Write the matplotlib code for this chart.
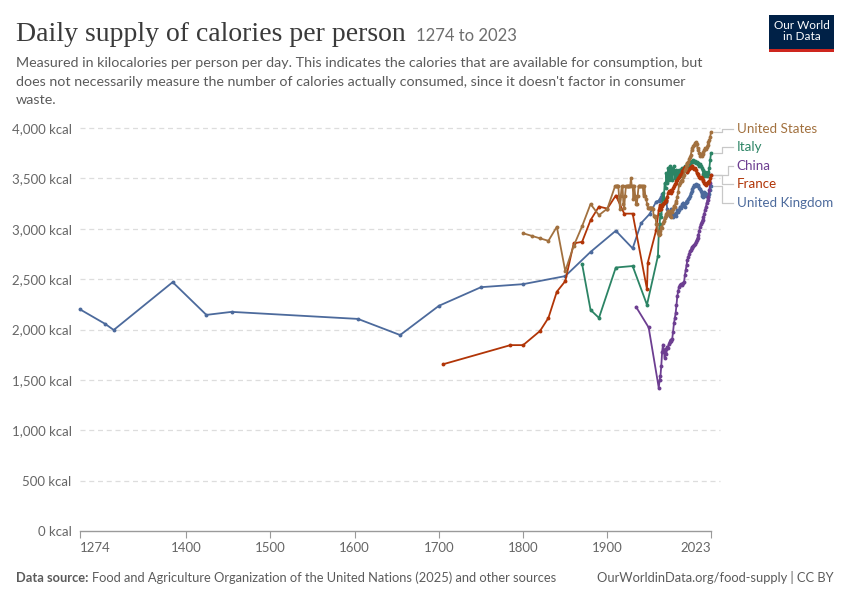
import matplotlib
matplotlib.use("Agg")
import matplotlib.pyplot as plt
from matplotlib.patches import Rectangle
import matplotlib.transforms as mtransforms

# ---------------- data ----------------
fao_years = list(range(1961, 2024))

uk_hist_years = [1274, 1304, 1314, 1384, 1424, 1454, 1604, 1654, 1700, 1750, 1800, 1850, 1880, 1910, 1930, 1940, 1950, 1958]
uk_hist_vals = [2200, 2055, 1995, 2470, 2145, 2175, 2105, 1945, 2235, 2420, 2450, 2530, 2770, 2980, 2805, 3055, 3145, 3270]
uk_fao_vals = [3280, 3290, 3300, 3320, 3340, 3320, 3300, 3280, 3290, 3270, 3200, 3150, 3160, 3130, 3150, 3200, 3180,
               3120, 3140, 3150, 3130, 3160, 3190, 3170, 3190, 3220, 3210, 3230, 3250, 3260, 3240, 3220, 3260, 3280,
               3270, 3300, 3310, 3330, 3350, 3370, 3390, 3410, 3430, 3420, 3440, 3430, 3420, 3430, 3400, 3390, 3370,
               3330, 3320, 3340, 3360, 3350, 3330, 3340, 3330, 3320, 3340, 3380, 3420]

fr_hist_years = [1705, 1785, 1800, 1820, 1830, 1840, 1850, 1860, 1870, 1880, 1890, 1900, 1910, 1920, 1930, 1947, 1948, 1958]
fr_hist_vals = [1655, 1845, 1845, 1985, 2115, 2375, 2480, 2855, 2870, 3085, 3220, 3200, 3330, 3150, 3150, 2400, 2665, 2990]
fr_fao_vals = [3190, 3220, 3240, 3200, 3230, 3250, 3260, 3270, 3280, 3290, 3320, 3350, 3370, 3360, 3350, 3380, 3370,
               3400, 3420, 3440, 3450, 3470, 3480, 3500, 3510, 3530, 3540, 3550, 3570, 3580, 3600, 3610, 3590, 3570,
               3560, 3580, 3590, 3600, 3610, 3620, 3620, 3600, 3590, 3600, 3580, 3550, 3540, 3530, 3510, 3500, 3510,
               3500, 3480, 3470, 3450, 3440, 3430, 3450, 3460, 3450, 3470, 3500, 3530]

it_hist_years = [1870, 1880, 1890, 1910, 1930, 1947, 1960]
it_hist_vals = [2650, 2195, 2115, 2615, 2630, 2245, 2730]
it_fao_vals = [2950, 3050, 3150, 3120, 3250, 3350, 3300, 3450, 3400, 3550, 3450, 3600, 3480, 3620, 3500, 3600, 3480,
               3580, 3620, 3500, 3580, 3500, 3550, 3520, 3580, 3520, 3560, 3600, 3540, 3580, 3600, 3620, 3580, 3600,
               3560, 3620, 3640, 3650, 3660, 3670, 3660, 3680, 3660, 3670, 3650, 3660, 3640, 3650, 3620, 3640, 3620,
               3600, 3580, 3540, 3520, 3560, 3540, 3520, 3540, 3560, 3600, 3680, 3750]

cn_hist_years = [1934, 1949]
cn_hist_vals = [2225, 2020]
cn_fao_vals = [1420, 1500, 1540, 1640, 1780, 1850, 1790, 1720, 1810, 1760, 1830, 1820, 1860, 1880, 1900, 1890, 1910,
               1980, 2060, 2110, 2160, 2240, 2330, 2380, 2420, 2440, 2450, 2440, 2450, 2460, 2470, 2540, 2590, 2640,
               2690, 2720, 2750, 2780, 2790, 2810, 2820, 2830, 2840, 2850, 2870, 2890, 2910, 2940, 2980, 3020, 3050,
               3070, 3090, 3120, 3150, 3190, 3220, 3260, 3290, 3320, 3380, 3450, 3530]

us_hist_years = [1800, 1810, 1820, 1830, 1840, 1850, 1860, 1870, 1880, 1890, 1900,
                 1909, 1910, 1911, 1912, 1913, 1914, 1915, 1916, 1917, 1918, 1919, 1920, 1921, 1922, 1923, 1924,
                 1925, 1926, 1927, 1928, 1929, 1930, 1931, 1932, 1933, 1934, 1935, 1936, 1937, 1938, 1939, 1940,
                 1941, 1942, 1943, 1944, 1945, 1946, 1947, 1948, 1949, 1950, 1951, 1952, 1953, 1954, 1955, 1956,
                 1957, 1958, 1959, 1960]
us_hist_vals = [2955, 2930, 2905, 2880, 3020, 2580, 2830, 3025, 3245, 3135, 3200,
                3420, 3420, 3420, 3420, 3420, 3300, 3200, 3330, 3420, 3420, 3250, 3210, 3330, 3420, 3420, 3420,
                3420, 3420, 3420, 3500, 3420, 3420, 3300, 3420, 3330, 3250, 3250, 3330, 3420, 3420, 3420, 3420,
                3420, 3420, 3330, 3420, 3330, 3300, 3250, 3210, 3210, 3210, 3210, 3210, 3210, 3200, 3130, 3130,
                3120, 3050, 3050, 2960]
us_fao_vals = [2940, 2950, 2980, 3020, 3010, 3060, 3080, 3110, 3130, 3150, 3160, 3180, 3150, 3140, 3120, 3180, 3170,
               3200, 3230, 3220, 3260, 3280, 3320, 3360, 3430, 3450, 3470, 3480, 3470, 3510, 3530, 3580, 3600, 3650,
               3630, 3660, 3690, 3710, 3730, 3780, 3800, 3820, 3830, 3850, 3860, 3840, 3800, 3780, 3750, 3720, 3740,
               3720, 3740, 3760, 3780, 3800, 3790, 3810, 3830, 3860, 3880, 3910, 3960]

countries = ["United States", "Italy", "China", "France", "United Kingdom"]
colors = {"United States": "#A2713F", "Italy": "#2C8465", "China": "#6D3E91",
          "France": "#B13507", "United Kingdom": "#4C6A9C"}
series = {
    "United Kingdom": (uk_hist_years + fao_years, uk_hist_vals + uk_fao_vals),
    "France": (fr_hist_years + fao_years, fr_hist_vals + fr_fao_vals),
    "Italy": (it_hist_years + fao_years, it_hist_vals + it_fao_vals),
    "China": (cn_hist_years + fao_years, cn_hist_vals + cn_fao_vals),
    "United States": (us_hist_years + fao_years, us_hist_vals + us_fao_vals),
}

x_ticks = [1274, 1400, 1500, 1600, 1700, 1800, 1900, 2023]
y_ticks = [0, 500, 1000, 1500, 2000, 2500, 3000, 3500, 4000]

# ---------------- figure ----------------
W, H = 850, 600
fig = plt.figure(figsize=(W / 100, H / 100), dpi=100)
ax = fig.add_axes([80 / W, 1 - 531 / H, 631 / W, 403 / H])
ax.set_xlim(1274, 2023)
ax.set_ylim(0, 4000)

for s in ["top", "right", "left"]:
    ax.spines[s].set_visible(False)
ax.spines["bottom"].set_color("#9a9a9a")
ax.spines["bottom"].set_linewidth(1.0)

ax.set_xticks(x_ticks)
ax.set_xticklabels([str(t) for t in x_ticks], family="Lato", fontsize=9.5, color="#666666")
ax.tick_params(axis="x", length=5, color="#9a9a9a", pad=3)
xl = ax.get_xticklabels()
xl[0].set_ha("left")
xl[-1].set_ha("right")

ax.set_yticks(y_ticks)
ax.set_yticklabels([f"{v:,} kcal" for v in y_ticks], family="Lato", fontsize=9.5, color="#666666")
ax.tick_params(axis="y", length=0, pad=6)

for v in y_ticks[1:]:
    ax.axhline(v, xmin=0, xmax=1.015, color="#dddddd", lw=0.9, dashes=(4, 3), clip_on=False, zorder=0)

draw_order = ["United Kingdom", "China", "Italy", "France", "United States"]
for c in draw_order:
    xs, ys = series[c]
    ax.plot(xs, ys, color=colors[c], lw=1.3, marker="o", ms=2.8, mew=0, clip_on=False, zorder=3)

# labels with connectors
blend = mtransforms.blended_transform_factory(ax.transAxes, ax.transData)
label_y_px = {"United States": 129, "Italy": 147, "China": 166, "France": 184, "United Kingdom": 203}
elbow = {"United States": 1.018, "Italy": 1.018, "China": 1.027, "France": 1.018, "United Kingdom": 1.018}
for c in countries:
    ys = series[c][1]
    y_end = ys[-1]
    y_lab = (531 - label_y_px[c]) / 403 * 4000
    xe = elbow[c]
    ax.plot([1.005, xe, xe, 1.035], [y_end, y_end, y_lab, y_lab], transform=blend,
            color="#c8c8c8", lw=0.9, clip_on=False, zorder=1)
    ax.text(1.041, y_lab, c, transform=blend, ha="left", va="center",
            family="Lato", fontsize=9.6, color=colors[c])

# ---------------- header ----------------
def fy(px):
    return 1 - px / H

fig.text(16 / W, fy(41), "Daily supply of calories per person", family="Liberation Serif",
         fontsize=20, color="#3a3a3a", ha="left", va="baseline")
fig.text(416 / W, fy(41), "1274 to 2023", family="Lato", fontsize=12, color="#6e6e6e",
         ha="left", va="baseline")
sub = ["Measured in kilocalories per person per day. This indicates the calories that are available for consumption, but",
       "does not necessarily measure the number of calories actually consumed, since it doesn't factor in consumer",
       "waste."]
for i, line in enumerate(sub):
    fig.text(16 / W, fy(67 + i * 18.5), line, family="Lato", fontsize=10.3, color="#5b5b5b",
             ha="left", va="baseline")

# logo
fig.patches.append(Rectangle((769 / W, fy(52)), 65 / W, 37 / H, transform=fig.transFigure,
                             facecolor="#002147", edgecolor="none"))
fig.patches.append(Rectangle((769 / W, fy(52)), 65 / W, 3 / H, transform=fig.transFigure,
                             facecolor="#CE261E", edgecolor="none"))
fig.text(801.5 / W, fy(31), "Our World\nin Data", family="Lato", fontsize=8.5, color="white",
         ha="center", va="center", linespacing=1.0)

# footer
t1 = fig.text(16 / W, fy(582), "Data source:", family="Lato", fontsize=9.3, color="#5b5b5b",
              fontweight="bold", ha="left", va="baseline")
fig.canvas.draw()
bb = t1.get_window_extent()
fig.text((bb.x1 + 3) / W, fy(582), "Food and Agriculture Organization of the United Nations (2025) and other sources",
         family="Lato", fontsize=9.3, color="#5b5b5b", ha="left", va="baseline")
fig.text(834 / W, fy(582), "OurWorldinData.org/food-supply | CC BY", family="Lato", fontsize=9.3,
         color="#5b5b5b", ha="right", va="baseline")

fig.savefig("out.png", dpi=100, facecolor="white")
